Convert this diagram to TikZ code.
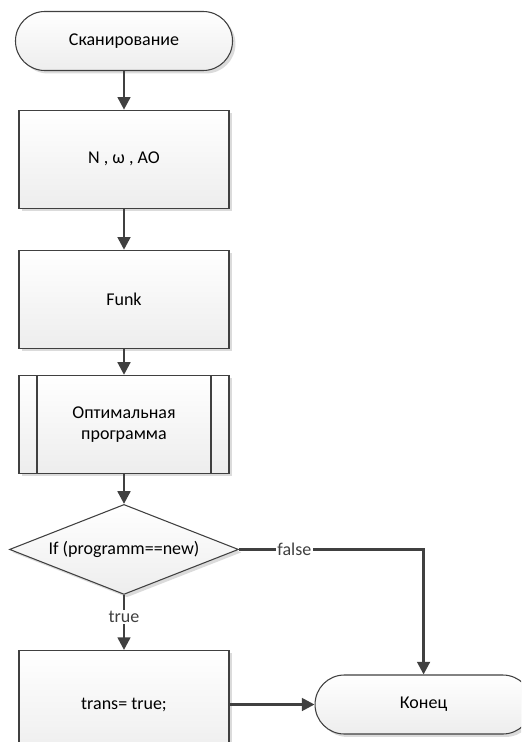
\documentclass[tikz,border=0pt]{standalone}
\usepackage{fontspec}
\setmainfont{Carlito}
\usepackage{tikz}
\usetikzlibrary{shapes.geometric, arrows.meta, positioning, shadows}
\definecolor{linea}{RGB}{64,64,64}
\tikzset{
  base/.style={draw=linea, line width=0.8pt, top color=white, bottom color=black!7,
    drop shadow={shadow xshift=2.2pt, shadow yshift=-2.2pt, fill=black!14, opacity=1},
    align=center, font=\fontsize{13.5}{16}\selectfont, inner sep=2pt},
  terminal/.style={base, rectangle, rounded corners=22pt,
    minimum width=162.75pt, minimum height=44.25pt},
  bloque/.style={base, rectangle, minimum width=157.5pt, minimum height=73.5pt},
  subprog/.style={bloque, path picture={
      \draw[linea, line width=0.8pt]
        ([xshift=13.5pt]path picture bounding box.north west) --
        ([xshift=13.5pt]path picture bounding box.south west)
        ([xshift=-13.5pt]path picture bounding box.north east) --
        ([xshift=-13.5pt]path picture bounding box.south east);}},
  cond/.style={base, diamond, aspect=2.5, inner sep=0pt,
    minimum width=171.75pt, minimum height=67.5pt},
  flecha/.style={-{Triangle[length=9.5pt, width=9.5pt]}, line width=2pt, color=linea},
  linea/.style={line width=2pt, color=linea},
  etiq/.style={font=\fontsize{13.5}{16}\selectfont, fill=white, inner sep=1pt}
}
\begin{document}
\begin{tikzpicture}[x=0.75pt, y=-0.75pt]
  \clip (0,0) rectangle (521,742);
  \node[terminal] (inicio) at (124,41) {Сканирование};
  \node[bloque, below=29pt of inicio] (param) {N , ω , AO};
  \node[bloque, below=30.75pt of param] (funk) {Funk};
  \node[subprog, below=19.5pt of funk] (optim) {Оптимальная\\программа};
  \node[cond, below=22.5pt of optim] (si) {If (programm==new)};
  \node[bloque, below=41.25pt of si, minimum height=81pt] (trans) {trans= true;};
  \node[terminal, right=63.75pt of trans] (fin) {Конец};
  \draw[flecha] (inicio) -- (param);
  \draw[flecha] (param) -- (funk);
  \draw[flecha] (funk) -- (optim);
  \draw[flecha] (optim) -- (si);
  \draw[flecha] (si) -- node[etiq, pos=0.4]{true} (trans);
  \draw[flecha] (si.east) -- node[etiq, pos=0.3]{false} (si.east -| fin.north) -- (fin.north);
  \draw[flecha] (trans) -- (fin);
\end{tikzpicture}
\end{document}
